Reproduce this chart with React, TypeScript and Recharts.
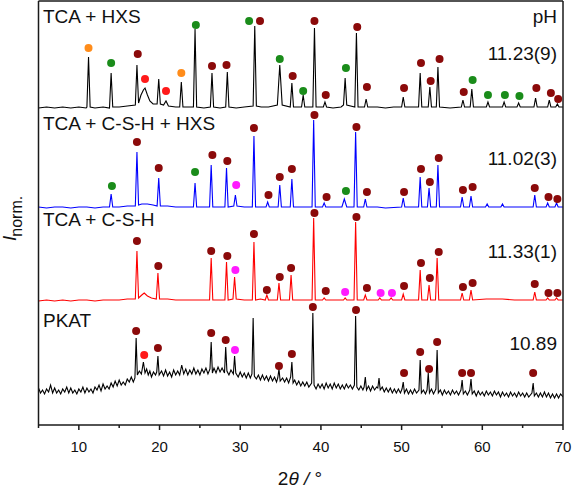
import React from 'react';
import { ComposedChart, Line, Scatter, XAxis, YAxis, Customized } from 'recharts';

type Pt = [number, number];
type Mk = [number, number, string];

// 2θ (deg) vs. normalised, offset intensity (a.u.)
const hxsPattern: Pt[] = [
  [5,317],[6,318],[7,317],[8,318],[9,317],[10,318],[10.9,317],[11.0,318],[11.2,368],[11.4,318],[12,317],[13,318],
  [13.8,317],[14.0,352],[14.2,318],[15,318],[16,319],[17.0,320],[17.2,360],[17.4,322],[17.7,330],[18.0,335],[18.2,337],
  [18.5,330],[18.8,324],[19.2,321],[19.7,321],[19.9,346],[20.1,321],[20.5,320],[20.8,324],[21.1,319],[22,318],[22.5,318],
  [22.7,343],[22.9,318],[23.5,318],[24.2,318],[24.4,396],[24.6,318],[25.5,317],[26.3,318],[26.5,352],[26.7,318],[27.5,317],
  [28.2,318],[28.4,353],[28.6,318],[29.5,317],[30.5,318],[31.6,319],[31.8,399],[32.0,319],[32.6,318],[33.5,318],[34.6,320],
  [34.9,360],[35.2,320],[36.2,318],[36.4,342],[36.6,318],[37.6,318],[37.8,330],[38.0,318],[39.0,318],[39.2,397],[39.4,318],
  [40.3,318],[40.5,323],[40.7,318],[41.5,317],[42.5,318],[42.8,320],[43.0,347],[43.2,320],[44.2,318],[44.4,392],[44.6,318],
  [45.4,318],[45.6,326],[45.8,318],[47,318],[48,317],[49,318],[50.0,318],[50.2,328],[50.4,318],[51.5,318],[52.1,318],
  [52.3,352],[52.5,318],[53.3,318],[53.5,338],[53.7,318],[54.3,318],[54.5,358],[54.7,318],[56,317],[57.4,318],[57.6,325],
  [57.8,318],[58.5,318],[58.7,336],[58.9,318],[60.5,318],[60.7,323],[60.9,318],[62.5,318],[62.7,323],[62.9,318],[64.3,318],
  [64.5,322],[64.7,318],[66.4,318],[66.6,327],[66.8,318],[68.1,318],[68.3,325],[68.5,318],[69.1,318],[69.3,321],[69.5,318],[70,318],
];

const cshHxsPattern: Pt[] = [
  [5,218],[6,217],[7,218],[8,218],[9,217],[10,218],[11,218],[12,217],[13,218],[13.8,218],[14.0,231],[14.2,218],[15,218],
  [16,219],[17.0,219],[17.2,273],[17.4,220],[17.8,221],[18.5,221],[19.2,220],[19.7,219],[19.9,247],[20.1,219],[21,219],
  [22,218],[23,218],[24.2,218],[24.4,242],[24.6,218],[25.5,218],[26.2,218],[26.4,260],[26.6,218],[27.5,218],[28.1,218],
  [28.3,257],[28.5,218],[29.2,219],[29.4,230],[29.6,219],[30.5,218],[31.5,218],[31.7,289],[31.9,218],[33.2,218],[33.4,223],
  [33.6,218],[34.7,218],[34.9,240],[35.1,218],[36.2,218],[36.4,246],[36.6,218],[37.5,218],[38.9,218],[39.1,305],[39.3,218],
  [40.2,218],[40.4,222],[40.6,218],[42.6,218],[42.9,226],[43.2,218],[44.1,218],[44.3,293],[44.5,218],[45.3,218],[45.5,226],
  [45.7,218],[47,218],[48,217],[50.0,218],[50.2,227],[50.4,218],[52.1,218],[52.3,248],[52.5,218],[53.2,218],[53.4,237],
  [53.6,218],[54.3,218],[54.5,260],[54.7,218],[56,218],[57.3,218],[57.5,228],[57.7,218],[58.4,218],[58.6,229],[58.8,218],
  [60.4,218],[60.6,221],[60.8,218],[62.3,218],[62.5,221],[62.7,218],[64,218],[66.3,218],[66.5,230],[66.7,218],[67.9,218],
  [68.1,222],[68.3,218],[69.0,218],[69.2,222],[69.4,218],[70,218],
];

const cshPattern: Pt[] = [
  [5,124],[6,125],[7,124],[8,125],[9,124],[10,125],[11,125],[12,124],[13,125],[14,125],[15,125],[16,126],[17.0,126],
  [17.2,174],[17.4,127],[17.8,130],[18.1,132],[18.5,129],[19.0,127],[19.6,126],[19.8,152],[20.0,126],[21,126],[22,125],
  [23,125],[24,125],[25,125],[26.2,125],[26.4,167],[26.6,125],[27.5,125],[28.1,125],[28.3,163],[28.5,125],[29.1,126],
  [29.3,148],[29.5,126],[30.5,125],[31.5,125],[31.7,183],[31.9,125],[32.5,126],[33.1,125],[33.3,130],[33.5,125],[34.6,125],
  [34.8,142],[35.0,125],[36.1,125],[36.3,150],[36.5,125],[37.5,125],[38.9,125],[39.1,207],[39.3,125],[40.2,125],[40.4,127],
  [40.6,125],[42.8,125],[43.0,127],[43.2,125],[44.1,125],[44.3,203],[44.5,125],[45.3,125],[45.5,130],[45.7,125],[47.1,125],
  [47.3,127],[47.5,125],[48.5,125],[48.7,127],[48.9,125],[50.0,125],[50.2,131],[50.4,125],[52.1,125],[52.3,155],[52.5,125],
  [53.2,125],[53.4,140],[53.6,125],[54.2,125],[54.4,167],[54.6,125],[56,125],[57.3,125],[57.5,132],[57.7,125],[58.4,125],
  [58.6,135],[58.8,125],[60.5,126],[62.5,126],[64,125],[66.3,125],[66.5,133],[66.7,125],[67.9,125],[68.1,127],[68.3,125],
  [69.0,125],[69.2,127],[69.4,125],[70,125],
];

const pkatPattern: Pt[] = [
  [5.0,37],[5.25,32],[5.5,35],[5.75,31],[6.0,36],[6.25,33],[6.5,40],[6.75,32],[7.0,37],[7.25,32],[7.5,35],[7.75,31],
  [8.0,36],[8.25,33],[8.5,38],[8.75,32],[9.0,37],[9.25,32],[9.5,35],[9.75,31],[10.0,36],[10.25,33],[10.5,38],[10.75,32],
  [11.0,37],[11.25,33],[11.5,36],[11.75,32],[12.0,38],[12.25,35],[12.5,40],[12.75,34],[13.0,41],[13.25,36],[13.5,39],
  [13.75,36],[14.0,42],[14.25,38],[14.5,44],[14.75,39],[15.0,45],[15.25,40],[15.5,43],[15.75,40],[16.0,46],[16.25,43],
  [16.5,48],[16.75,43],[16.95,47],[17.1,87],[17.25,50],[17.5,54],[17.75,51],[18.0,63],[18.2,52],[18.4,56],[18.6,50],
  [18.8,54],[19.0,48],[19.25,53],[19.5,50],[19.65,53],[19.8,69],[19.95,50],[20.25,54],[20.5,49],[20.75,55],[21.0,49],
  [21.25,53],[21.5,48],[21.75,55],[22.0,50],[22.25,54],[22.5,50],[22.75,60],[23.0,51],[23.25,56],[23.5,50],[23.75,55],
  [24.0,51],[24.25,57],[24.5,51],[24.75,55],[25.0,50],[25.25,56],[25.5,52],[25.75,57],[26.0,51],[26.25,56],[26.4,83],
  [26.55,52],[26.75,57],[27.0,52],[27.25,58],[27.5,53],[27.75,57],[28.05,52],[28.2,78],[28.35,54],[28.6,50],[28.85,55],
  [29.15,51],[29.3,69],[29.45,52],[29.75,48],[30.0,53],[30.25,48],[30.5,52],[30.75,47],[31.0,52],[31.25,47],[31.45,51],
  [31.6,107],[31.75,49],[32.0,46],[32.25,50],[32.5,45],[32.75,50],[33.0,45],[33.25,49],[33.5,44],[33.75,49],[34.0,44],
  [34.25,48],[34.5,43],[34.65,47],[34.8,56],[34.95,44],[35.25,47],[35.5,43],[35.75,47],[36.0,42],[36.25,48],[36.4,63],
  [36.55,42],[36.75,45],[37.0,40],[37.25,44],[37.5,39],[37.75,43],[38.0,39],[38.25,43],[38.5,38],[38.85,42],[39.0,112],
  [39.15,40],[39.4,36],[39.65,41],[39.9,37],[40.15,41],[40.4,36],[40.65,42],[40.9,37],[41.15,41],[41.4,36],[41.65,42],
  [41.9,37],[42.15,41],[42.4,36],[42.65,40],[42.9,36],[43.15,41],[43.4,37],[43.65,40],[43.9,36],[44.15,40],[44.3,109],
  [44.45,38],[44.7,35],[44.95,39],[45.2,35],[45.35,38],[45.5,48],[45.65,35],[45.9,39],[46.15,34],[46.4,39],[46.65,35],
  [46.9,38],[47.05,37],[47.2,47],[47.35,35],[47.6,38],[47.85,33],[48.1,37],[48.35,33],[48.6,37],[48.85,32],[49.1,36],
  [49.35,32],[49.6,36],[49.85,32],[50.05,36],[50.2,43],[50.35,32],[50.6,36],[50.85,31],[51.1,35],[51.35,31],[51.6,36],
  [51.85,32],[52.15,35],[52.3,65],[52.45,32],[52.7,35],[52.95,31],[53.15,35],[53.3,52],[53.45,32],[53.7,36],[53.95,31],
  [54.25,36],[54.4,75],[54.55,32],[54.8,35],[55.05,30],[55.3,35],[55.55,31],[55.8,34],[56.05,30],[56.3,35],[56.55,31],
  [56.8,34],[57.05,30],[57.35,35],[57.5,45],[57.65,31],[57.9,34],[58.15,30],[58.45,35],[58.6,46],[58.75,31],[59.0,34],
  [59.25,29],[59.5,34],[59.75,30],[60.0,33],[60.25,29],[60.5,34],[60.75,30],[61.0,33],[61.25,29],[61.5,34],[61.75,30],
  [62.0,33],[62.25,28],[62.5,33],[62.75,29],[63.0,32],[63.25,28],[63.5,33],[63.75,29],[64.0,32],[64.25,28],[64.5,33],
  [64.75,29],[65.0,32],[65.25,28],[65.5,32],[65.75,28],[66.15,32],[66.3,42],[66.45,29],[66.7,32],[66.95,28],[67.2,32],
  [67.45,28],[67.7,33],[67.95,28],[68.2,32],[68.45,27],[68.7,31],[68.95,27],[69.2,31],[69.45,27],[69.7,31],[70.0,28],
];

// reflection markers: [2θ, height, phase]
const hxsMarks: Mk[] = [
  [11.2,377,'orange'],[14.0,362,'green'],[17.3,371,'dark'],[18.2,346,'red'],[20.8,334,'red'],[22.7,352,'orange'],
  [24.5,400,'green'],[26.5,359,'dark'],[28.3,360,'dark'],[31.1,404,'green'],[32.45,404,'dark'],[34.9,366,'green'],
  [36.5,349,'dark'],[37.8,334,'green'],[39.2,404,'dark'],[40.6,330,'dark'],[43.1,357,'green'],[44.5,398,'dark'],
  [45.7,338,'dark'],[50.3,337,'dark'],[52.4,362,'dark'],[53.6,344,'dark'],[54.7,366,'dark'],[57.7,333,'dark'],
  [58.8,345,'green'],[60.7,330,'green'],[62.8,330,'green'],[64.6,329,'green'],[66.7,337,'dark'],[68.5,332,'dark'],
  [69.4,326,'dark'],
];
const cshHxsMarks: Mk[] = [
  [14.1,239,'green'],[17.2,283,'dark'],[19.9,257,'dark'],[24.4,253,'green'],[26.55,270,'dark'],[28.4,264,'dark'],
  [29.5,240,'magenta'],[31.7,297,'dark'],[33.5,230,'dark'],[34.9,248,'dark'],[36.4,256,'dark'],[39.2,310,'dark'],
  [40.7,228,'dark'],[43.1,234,'green'],[44.4,298,'dark'],[45.7,233,'dark'],[50.3,233,'dark'],[52.4,256,'dark'],
  [53.5,243,'dark'],[54.6,267,'dark'],[57.6,235,'dark'],[58.8,238,'dark'],[66.5,237,'dark'],[68.2,228,'dark'],
  [69.3,226,'dark'],
];
const cshMarks: Mk[] = [
  [17.2,184,'dark'],[19.85,159,'dark'],[26.4,174,'dark'],[28.4,169,'dark'],[29.4,155,'magenta'],[31.7,191,'dark'],
  [33.3,135,'dark'],[34.9,148,'dark'],[36.3,157,'dark'],[39.2,212,'dark'],[40.6,134,'dark'],[43.0,133,'magenta'],
  [44.4,208,'dark'],[45.7,137,'dark'],[47.4,132,'magenta'],[48.8,132,'magenta'],[50.3,139,'dark'],[52.4,162,'dark'],
  [53.5,147,'dark'],[54.6,173,'dark'],[57.6,138,'dark'],[58.8,142,'dark'],[66.5,141,'dark'],[68.2,132,'dark'],
  [69.3,132,'dark'],
];
const pkatMarks: Mk[] = [
  [17.1,94,'dark'],[18.1,70,'red'],[19.8,77,'dark'],[26.4,92,'dark'],[28.2,85,'dark'],[29.35,75,'magenta'],
  [34.8,59,'dark'],[36.4,71,'dark'],[39.0,118,'dark'],[44.35,115,'dark'],[50.3,52,'dark'],[52.3,73,'dark'],
  [53.4,56,'dark'],[54.4,83,'dark'],[57.5,52,'dark'],[58.6,52,'dark'],[66.3,52,'dark'],
];

const sampleNames = ['TCA + HXS', 'TCA + C-S-H + HXS', 'TCA + C-S-H', 'PKAT'];
const phValues = ['11.23(9)', '11.02(3)', '11.33(1)', '10.89'];
const xTicks = [5, 10, 15, 20, 25, 30, 35, 40, 45, 50, 55, 60, 65, 70];

const phaseColors: Record<string, string> = {
  dark: '#8b0a0a',
  green: '#1a8c1a',
  red: '#ff1a1a',
  orange: '#ff8c1a',
  magenta: '#ff1aff',
};
const lineColors = ['#000000', '#0000ff', '#ff0000', '#000000'];

const patterns = [hxsPattern, cshHxsPattern, cshPattern, pkatPattern];
const allMarks = [...hxsMarks, ...cshHxsMarks, ...cshMarks, ...pkatMarks];

const FONT = '"Liberation Sans", Arial, sans-serif';
const W = 572;
const H = 488;
const AX = { stroke: '#1a1a1a', strokeWidth: 1.5 };

const labelY = [23, 130, 226, 327];
const phY = [60, 165, 258, 350];

const XTick = (props: any) => {
  const { x, y, payload } = props;
  const major = payload.value % 10 === 0;
  return (
    <g>
      <line x1={x} x2={x} y1={y} y2={y + (major ? 5 : 3)} stroke="#1a1a1a" strokeWidth={1.5} />
      {major && (
        <text x={x} y={y + 27} textAnchor="middle" fontSize={15} fontFamily={FONT} fill="#111">
          {payload.value}
        </text>
      )}
    </g>
  );
};

const Texts = () => (
  <g fontFamily={FONT} fill="#111">
    {sampleNames.map((s, i) => (
      <text key={s} x={43} y={labelY[i]} fontSize={19}>{s}</text>
    ))}
    <text x={557} y={23} fontSize={19} textAnchor="end">pH</text>
    {phValues.map((s, i) => (
      <text key={s} x={557} y={phY[i]} fontSize={19} textAnchor="end">{s}</text>
    ))}
    <text transform="rotate(-90)" x={-241} y={15.5} fontSize={19}>
      <tspan fontStyle="italic">I</tspan>
      <tspan fontSize={16} dx={-1} dy={6}>norm.</tspan>
    </text>
    <text x={300} y={485} fontSize={19} textAnchor="middle">
      2<tspan fontStyle="italic">θ</tspan>
      <tspan fontStyle="italic"> /</tspan> °
    </text>
  </g>
);

export default function App() {
  const phases = Object.keys(phaseColors);
  return (
    <div style={{ position: 'absolute', left: 0, top: 0, width: W, height: H, background: '#fff' }}>
      <ComposedChart width={W} height={H} margin={{ top: 0, right: 0, bottom: 0, left: 0 }}>
        <XAxis
          xAxisId="b"
          dataKey="x"
          type="number"
          domain={[5, 70]}
          ticks={xTicks}
          interval={0}
          height={63}
          tickSize={0}
          tickMargin={0}
          tickLine={false}
          tick={<XTick />}
          axisLine={AX}
          allowDataOverflow
        />
        <XAxis
          xAxisId="t"
          orientation="top"
          type="number"
          domain={[5, 70]}
          height={1}
          tick={false}
          tickLine={false}
          axisLine={AX}
        />
        <YAxis
          yAxisId="l"
          type="number"
          domain={[0, 424]}
          width={38.5}
          tick={false}
          tickLine={false}
          axisLine={AX}
          allowDataOverflow
        />
        <YAxis
          yAxisId="r"
          orientation="right"
          type="number"
          domain={[0, 424]}
          width={9}
          tick={false}
          tickLine={false}
          axisLine={AX}
        />
        {patterns.map((p, i) => (
          <Line
            key={'l' + i}
            xAxisId="b"
            yAxisId="l"
            data={p.map(([x, y]) => ({ x, y }))}
            dataKey="y"
            type="linear"
            stroke={lineColors[i]}
            strokeWidth={1.1}
            dot={false}
            activeDot={false}
            isAnimationActive={false}
          />
        ))}
        {phases.map((ph) => (
          <Scatter
            key={ph}
            xAxisId="b"
            yAxisId="l"
            data={allMarks.filter((m) => m[2] === ph).map(([x, y]) => ({ x, y }))}
            dataKey="y"
            isAnimationActive={false}
            shape={(p: any) => <circle cx={p.cx} cy={p.cy} r={4} fill={phaseColors[ph]} />}
          />
        ))}
        <Customized component={Texts} />
      </ComposedChart>
    </div>
  );
}
